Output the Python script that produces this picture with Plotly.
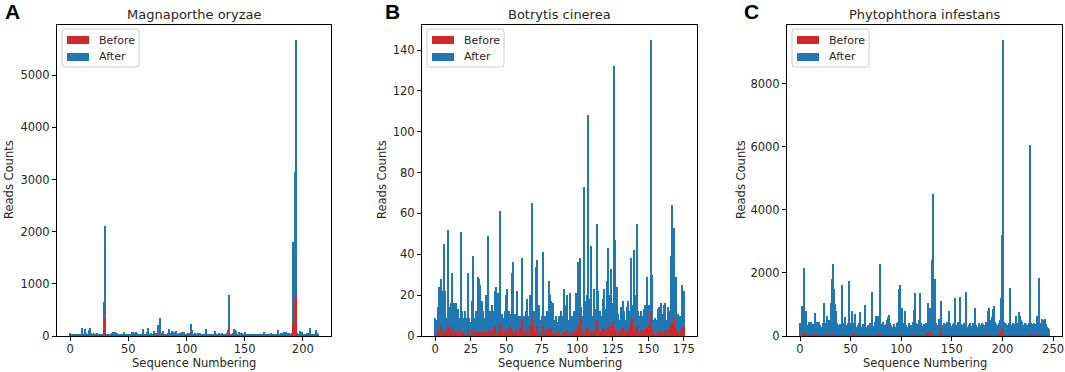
import plotly.graph_objects as go

# ---------------- data ----------------
titles = ["Magnaporthe oryzae", "Botrytis cinerea", "Phytophthora infestans"]
panel_letters = ["A", "B", "C"]
series_names = ["Before", "After"]

a_after = [
    50, 30, 45, 20, 40, 30, 15, 25, 10, 20,
    160, 30, 20, 130, 60, 40, 110, 150, 50, 40,
    30, 60, 40, 50, 30, 35, 20, 30, 40, 650,
    2100, 30, 25, 40, 20, 30, 60, 70, 40, 80,
    50, 30, 20, 30, 40, 20, 70, 30, 20, 30,
    20, 40, 30, 70, 80, 40, 60, 80, 50, 30,
    20, 40, 30, 140, 20, 40, 70, 150, 40, 30,
    60, 30, 90, 40, 50, 30, 220, 350, 40, 60,
    100, 30, 40, 20, 60, 140, 50, 40, 100, 80,
    60, 90, 40, 30, 50, 60, 70, 30, 80, 40,
    30, 60, 40, 50, 230, 120, 40, 60, 20, 40,
    60, 30, 50, 20, 40, 30, 20, 130, 30, 20,
    40, 30, 20, 40, 30, 100, 40, 30, 50, 20,
    40, 60, 30, 40, 20, 60, 110, 780, 30, 20,
    60, 130, 110, 90, 40, 70, 50, 30, 60, 40,
    70, 30, 20, 40, 30, 20, 30, 40, 30, 20,
    40, 30, 20, 30, 40, 30, 20, 80, 30, 40,
    20, 30, 40, 60, 40, 30, 20, 40, 30, 110,
    40, 50, 30, 60, 80, 40, 70, 60, 50, 30,
    40, 60, 1800, 3150, 5680, 60, 40, 30, 90, 70,
    40, 30, 40, 20, 50, 60, 150, 40, 30, 20,
    40, 110, 50, 30,
]
a_before = [
    5, 2, 8, 0, 4, 3, 0, 2, 0, 3,
    12, 3, 0, 10, 5, 2, 8, 10, 4, 2,
    0, 5, 3, 4, 2, 0, 2, 3, 5, 100,
    350, 3, 0, 4, 2, 3, 6, 5, 2, 8,
    4, 2, 0, 3, 5, 0, 6, 2, 0, 3,
    2, 4, 0, 6, 8, 3, 5, 7, 2, 0,
    0, 4, 2, 12, 0, 3, 5, 15, 3, 2,
    5, 0, 8, 3, 4, 2, 30, 50, 3, 5,
    10, 2, 4, 0, 5, 12, 4, 3, 8, 6,
    5, 8, 3, 2, 4, 5, 6, 0, 7, 3,
    2, 5, 3, 4, 60, 15, 3, 5, 0, 3,
    5, 2, 4, 0, 3, 2, 0, 12, 2, 0,
    3, 2, 0, 4, 2, 10, 3, 2, 4, 0,
    3, 5, 2, 4, 0, 5, 12, 110, 2, 0,
    5, 15, 20, 8, 3, 6, 4, 2, 5, 3,
    6, 2, 0, 3, 2, 0, 3, 4, 2, 0,
    3, 2, 0, 2, 4, 3, 0, 8, 2, 3,
    0, 2, 4, 5, 3, 2, 0, 4, 2, 10,
    3, 4, 2, 5, 8, 3, 6, 5, 4, 2,
    3, 5, 250, 700, 800, 5, 3, 2, 8, 6,
    3, 2, 4, 0, 5, 6, 15, 3, 2, 0,
    3, 10, 4, 2,
]

b_after = [
    9, 8, 14, 24, 28, 22, 45, 22, 9, 52,
    14, 16, 31, 16, 16, 16, 13, 9, 51, 12,
    9, 12, 9, 31, 9, 7, 17, 39, 9, 12,
    29, 28, 25, 17, 12, 9, 20, 49, 9, 12,
    15, 12, 22, 24, 21, 9, 61, 11, 9, 12,
    20, 23, 12, 11, 31, 36, 11, 10, 22, 10,
    10, 38, 10, 10, 12, 18, 10, 20, 65, 12,
    12, 34, 37, 15, 8, 10, 41, 10, 10, 12,
    27, 20, 17, 16, 8, 10, 7, 10, 7, 12,
    10, 23, 15, 20, 8, 21, 10, 10, 12, 21,
    17, 36, 38, 14, 10, 73, 17, 20, 108, 18,
    44, 10, 23, 13, 55, 22, 12, 10, 18, 23,
    13, 27, 43, 20, 33, 16, 132, 47, 24, 11,
    8, 14, 17, 12, 8, 14, 17, 12, 38, 15,
    42, 20, 55, 12, 10, 12, 10, 13, 15, 29,
    15, 15, 145, 30, 8, 9, 8, 13, 14, 16,
    11, 15, 16, 8, 14, 12, 39, 64, 53, 24,
    29, 11, 10, 10, 25, 22,
]
b_before = [
    1, 0, 3, 2, 5, 1, 3, 0, 2, 5,
    2, 3, 1, 3, 2, 1, 3, 0, 2, 1,
    2, 1, 0, 3, 1, 0, 2, 3, 1, 2,
    2, 1, 2, 2, 1, 2, 2, 3, 2, 1,
    3, 2, 5, 1, 2, 0, 6, 3, 1, 2,
    3, 1, 2, 5, 3, 2, 1, 3, 1, 2,
    4, 8, 2, 1, 3, 2, 1, 5, 9, 2,
    3, 2, 5, 1, 0, 2, 5, 1, 3, 2,
    3, 2, 4, 1, 2, 1, 0, 2, 1, 0,
    1, 2, 1, 3, 0, 2, 1, 1, 2, 3,
    2, 5, 4, 9, 2, 1, 3, 2, 4, 1,
    2, 1, 3, 2, 8, 3, 1, 2, 4, 2,
    3, 2, 4, 5, 3, 7, 4, 3, 2, 1,
    2, 3, 4, 2, 1, 3, 2, 4, 6, 9,
    2, 3, 5, 1, 2, 3, 2, 1, 3, 4,
    3, 5, 12, 3, 1, 0, 1, 2, 3, 1,
    2, 1, 3, 1, 2, 3, 5, 7, 9, 4,
    3, 2, 1, 2, 4, 5,
]

c_after = [
    400, 380, 950, 300, 2150, 420, 800, 350, 250, 430,
    300, 450, 320, 380, 260, 720, 300, 450, 280, 430,
    350, 220, 300, 420, 1050, 330, 400, 620, 380, 500,
    420, 1050, 1800, 2280, 1500, 1000, 800, 420, 350, 300,
    380, 1630, 400, 320, 600, 280, 350, 400, 1750, 300,
    420, 780, 350, 400, 700, 300, 280, 350, 420, 750,
    300, 250, 380, 320, 970, 280, 300, 350, 260, 420,
    380, 1400, 320, 300, 450, 620, 400, 620, 450, 2280,
    380, 300, 450, 350, 300, 380, 520, 600, 680, 400,
    350, 300, 280, 380, 250, 300, 420, 450, 1500, 1630,
    500, 880, 420, 380, 800, 350, 300, 280, 400, 320,
    350, 300, 450, 830, 1370, 420, 380, 350, 500, 1350,
    400, 320, 300, 380, 420, 350, 1050, 500, 900, 450,
    2400, 4500, 500, 1800, 420, 350, 300, 550, 380, 1100,
    350, 300, 420, 380, 300, 450, 350, 800, 400, 320,
    300, 380, 420, 1200, 350, 300, 450, 400, 1250, 380,
    300, 350, 420, 380, 1400, 300, 280, 350, 400, 320,
    300, 420, 380, 900, 350, 300, 280, 400, 350, 300,
    420, 380, 300, 350, 450, 400, 800, 900, 500, 420,
    600, 850, 950, 450, 380, 300, 350, 420, 500, 1200,
    3200, 9400, 450, 400, 380, 350, 420, 1530, 350, 300,
    400, 380, 350, 650, 420, 380, 750, 650, 500, 450,
    350, 300, 400, 380, 350, 300, 420, 6050, 400, 380,
    350, 420, 300, 380, 650, 450, 1850, 400, 350, 550,
    500, 420, 550, 380, 300, 250, 220,
]
c_before = [
    20, 10, 30, 60, 15, 80, 20, 40, 10, 25,
    15, 30, 10, 20, 5, 40, 10, 60, 15, 20,
    10, 5, 20, 30, 15, 40, 10, 20, 30, 15,
    20, 40, 30, 60, 25, 15, 20, 10, 15, 20,
    10, 30, 15, 20, 10, 5, 15, 20, 30, 10,
    20, 40, 100, 60, 20, 15, 10, 20, 15, 30,
    10, 5, 15, 20, 30, 10, 15, 20, 10, 25,
    15, 30, 10, 20, 15, 10, 20, 40, 60, 80,
    90, 30, 15, 20, 10, 15, 20, 30, 15, 10,
    20, 10, 15, 5, 10, 15, 20, 10, 30, 40,
    20, 15, 10, 20, 15, 10, 5, 15, 20, 10,
    15, 10, 20, 30, 40, 15, 10, 20, 15, 30,
    10, 15, 20, 10, 30, 60, 130, 150, 40, 20,
    30, 40, 20, 15, 10, 20, 15, 30, 20, 250,
    20, 15, 10, 20, 15, 30, 10, 20, 15, 10,
    20, 15, 10, 30, 15, 20, 10, 15, 20, 10,
    15, 20, 10, 15, 30, 10, 20, 15, 10, 20,
    15, 10, 20, 30, 15, 10, 20, 15, 10, 20,
    15, 20, 10, 15, 30, 40, 20, 15, 10, 20,
    15, 20, 30, 10, 15, 20, 40, 30, 60, 120,
    260, 40, 20, 15, 10, 20, 15, 30, 20, 10,
    15, 20, 10, 15, 20, 30, 15, 10, 20, 15,
    10, 15, 20, 10, 15, 20, 10, 40, 15, 20,
    10, 15, 20, 30, 15, 10, 40, 20, 15, 30,
    20, 15, 10, 20, 15, 10, 5,
]

x_ticks = [[0, 50, 100, 150, 200], [0, 25, 50, 75, 100, 125, 150, 175], [0, 50, 100, 150, 200, 250]]
y_ticks = [[0, 1000, 2000, 3000, 4000, 5000], [0, 20, 40, 60, 80, 100, 120, 140], [0, 2000, 4000, 6000, 8000]]

# ---------------- layout geometry (page pixels) ----------------
W, H = 1065, 372
panel_px = [(57, 331), (422, 697), (787, 1062)]
top_px, bot_px = 25, 336
letter_px = [3, 383, 742]
ylab_px = [9, 382, 741]
legend_left_px = [62, 427, 792]


def px(p):
    return p / W


def py(p):
    return 1 - p / H


BLUE = "#1f77b4"
RED = "#d62728"
TXT = "#262626"
FONT = "DejaVu Sans, Liberation Sans, Arial, sans-serif"

afters = [a_after, b_after, c_after]
befores = [a_before, b_before, c_before]

fig = go.Figure()
ydom = [py(bot_px), py(top_px)]
annotations = []
shapes = []


def rounded_box(x0, y0, x1, y1, r=3):
    X0, X1 = px(x0), px(x1)
    Y0, Y1 = py(y0), py(y1)  # Y0 is top (larger)
    rx, ry = r / W, r / H
    return (f"M {X0 + rx},{Y0} L {X1 - rx},{Y0} Q {X1},{Y0} {X1},{Y0 - ry} "
            f"L {X1},{Y1 + ry} Q {X1},{Y1} {X1 - rx},{Y1} L {X0 + rx},{Y1} "
            f"Q {X0},{Y1} {X0},{Y1 + ry} L {X0},{Y0 - ry} Q {X0},{Y0} {X0 + rx},{Y0} Z")


for i in range(3):
    sfx = "" if i == 0 else str(i + 1)
    xa, ya = "x" + sfx, "y" + sfx
    n_after = afters[i]
    n_before = befores[i]
    fig.add_trace(go.Bar(
        x=list(range(len(n_after))), y=n_after, width=1.0,
        marker=dict(color=BLUE, line=dict(width=0)),
        name=series_names[1], xaxis=xa, yaxis=ya, showlegend=False,
    ))
    fig.add_trace(go.Bar(
        x=list(range(len(n_before))), y=n_before, width=1.0,
        marker=dict(color=RED, line=dict(width=0)),
        name=series_names[0], xaxis=xa, yaxis=ya, showlegend=False,
    ))

    n = len(n_after)
    xmin = -0.5 - 0.05 * n
    xmax = n - 0.5 + 0.05 * n
    ymax = max(n_after) * 1.05
    x0, x1 = panel_px[i]
    common = dict(
        showline=True, mirror=True, linecolor="#000000", linewidth=1,
        ticks="outside", ticklen=4, tickcolor="#000000", tickwidth=1,
        showgrid=False, zeroline=False, automargin=False,
        tickfont=dict(family=FONT, size=11.5, color=TXT),
    )
    fig.update_layout(**{
        "xaxis" + sfx: dict(domain=[px(x0), px(x1)], anchor=ya, range=[xmin, xmax],
                            tickvals=x_ticks[i], ticktext=[str(v) for v in x_ticks[i]],
                            ticklabelstandoff=-2, **common),
        "yaxis" + sfx: dict(domain=ydom, anchor=xa, range=[0, ymax],
                            tickvals=y_ticks[i], ticktext=[str(v) for v in y_ticks[i]], **common),
    })

    # legend (matplotlib style: wide colour patches in a rounded frame)
    lx = legend_left_px[i]
    shapes.append(dict(type="path", xref="paper", yref="paper", path=rounded_box(lx, 29, lx + 77, 67),
                       fillcolor="rgba(255,255,255,0.85)", line=dict(color="#cccccc", width=1), layer="above"))
    for k, (col, cy) in enumerate([(RED, 40), (BLUE, 57)]):
        shapes.append(dict(type="rect", xref="paper", yref="paper",
                           x0=px(lx + 5), x1=px(lx + 27), y0=py(cy + 4), y1=py(cy - 4),
                           fillcolor=col, line=dict(width=0), layer="above"))
        annotations.append(dict(text=series_names[k], x=px(lx + 35), y=py(cy), xref="paper", yref="paper",
                                showarrow=False, xanchor="left", yanchor="middle",
                                font=dict(family=FONT, size=11, color=TXT)))

    cx = px((x0 + x1) / 2)
    annotations.append(dict(text=titles[i], x=cx, y=py(15), xref="paper", yref="paper",
                            showarrow=False, xanchor="center", yanchor="middle",
                            font=dict(family=FONT, size=13, color=TXT)))
    annotations.append(dict(text="<b>" + panel_letters[i] + "</b>", x=px(letter_px[i]), y=py(12),
                            xref="paper", yref="paper", showarrow=False, xanchor="left", yanchor="middle",
                            font=dict(family="Liberation Sans, Arial, sans-serif", size=21, color="#000000")))
    annotations.append(dict(text="Sequence Numbering", x=cx, y=py(363), xref="paper", yref="paper",
                            showarrow=False, xanchor="center", yanchor="middle",
                            font=dict(family=FONT, size=11.5, color=TXT)))
    annotations.append(dict(text="Reads Counts", x=px(ylab_px[i]), y=py(180), xref="paper", yref="paper",
                            showarrow=False, xanchor="center", yanchor="middle", textangle=-90,
                            font=dict(family=FONT, size=11.5, color=TXT)))

fig.update_layout(
    width=W, height=H, margin=dict(l=0, r=0, t=0, b=0),
    paper_bgcolor="white", plot_bgcolor="white",
    barmode="overlay", bargap=0, showlegend=False,
    annotations=annotations, shapes=shapes,
)

fig.write_html("out.html", config={"displayModeBar": False},
               post_script="document.body.style.margin='0';document.body.style.overflow='hidden';")
